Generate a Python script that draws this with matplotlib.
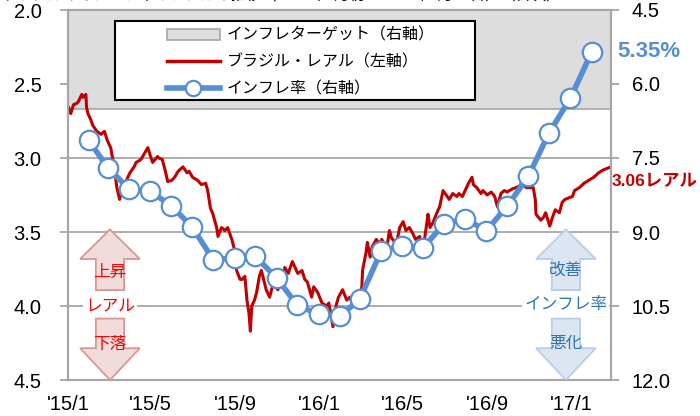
import matplotlib
matplotlib.use("Agg")
import matplotlib.pyplot as plt
from matplotlib.patches import Rectangle, FancyArrow, Patch
from matplotlib.lines import Line2D
from matplotlib.transforms import blended_transform_factory
import pandas as pd

plt.rcParams['font.family'] = ['Liberation Sans', 'Noto Sans CJK JP', 'DejaVu Sans']

# ブラジル・レアル（対米ドル、左軸、日次を目視で読み取り）
brl_dates = [
    '2015-01-02', '2015-01-05', '2015-01-09', '2015-01-14', '2015-01-16', '2015-01-21',
    '2015-01-23', '2015-01-27', '2015-01-28', '2015-01-30', '2015-02-03', '2015-02-06',
    '2015-02-12', '2015-02-18', '2015-02-23', '2015-02-27', '2015-03-04', '2015-03-09',
    '2015-03-13', '2015-03-16', '2015-03-17', '2015-03-20', '2015-03-23', '2015-03-27',
    '2015-04-01', '2015-04-07', '2015-04-10', '2015-04-17', '2015-04-22', '2015-04-27',
    '2015-05-01', '2015-05-04', '2015-05-11', '2015-05-13', '2015-05-18', '2015-05-22',
    '2015-05-26', '2015-06-01', '2015-06-05', '2015-06-10', '2015-06-17', '2015-06-23',
    '2015-06-26', '2015-07-01', '2015-07-08', '2015-07-14', '2015-07-20', '2015-07-23',
    '2015-07-27', '2015-07-30', '2015-08-05', '2015-08-07', '2015-08-12', '2015-08-17',
    '2015-08-21', '2015-08-27', '2015-08-31', '2015-09-03', '2015-09-08', '2015-09-11',
    '2015-09-15', '2015-09-18', '2015-09-21', '2015-09-23', '2015-09-25', '2015-09-29',
    '2015-10-02', '2015-10-06', '2015-10-09', '2015-10-16', '2015-10-21', '2015-10-26',
    '2015-11-02', '2015-11-09', '2015-11-12', '2015-11-17', '2015-11-23', '2015-11-27',
    '2015-12-01', '2015-12-07', '2015-12-11', '2015-12-15', '2015-12-21', '2015-12-24',
    '2015-12-30', '2016-01-05', '2016-01-12', '2016-01-15', '2016-01-21', '2016-01-26',
    '2016-01-29', '2016-02-04', '2016-02-10', '2016-02-15', '2016-02-19', '2016-02-26',
    '2016-03-03', '2016-03-04', '2016-03-09', '2016-03-11', '2016-03-15', '2016-03-18',
    '2016-03-24', '2016-03-29', '2016-04-01', '2016-04-08', '2016-04-12', '2016-04-15',
    '2016-04-22', '2016-04-27', '2016-05-02', '2016-05-06', '2016-05-11', '2016-05-16',
    '2016-05-20', '2016-05-26', '2016-05-30', '2016-06-02', '2016-06-06', '2016-06-07',
    '2016-06-10', '2016-06-14', '2016-06-20', '2016-06-24', '2016-06-29', '2016-07-05',
    '2016-07-08', '2016-07-13', '2016-07-19', '2016-07-22', '2016-07-27', '2016-08-02',
    '2016-08-05', '2016-08-10', '2016-08-12', '2016-08-17', '2016-08-23', '2016-08-26',
    '2016-09-01', '2016-09-07', '2016-09-12', '2016-09-16', '2016-09-21', '2016-09-26',
    '2016-09-30', '2016-10-07', '2016-10-13', '2016-10-18', '2016-10-21', '2016-10-28',
    '2016-11-07', '2016-11-10', '2016-11-11', '2016-11-18', '2016-11-22', '2016-11-25',
    '2016-12-01', '2016-12-05', '2016-12-09', '2016-12-15', '2016-12-19', '2016-12-23',
    '2017-01-03', '2017-01-06', '2017-01-13', '2017-01-20', '2017-01-27', '2017-02-03',
    '2017-02-10', '2017-02-17', '2017-02-28',
]
brl_values = [
    2.66, 2.70, 2.64, 2.63, 2.62, 2.57,
    2.59, 2.57, 2.66, 2.70, 2.74, 2.78,
    2.82, 2.84, 2.82, 2.88, 2.93, 3.06,
    3.20, 3.26, 3.28, 3.22, 3.20, 3.15,
    3.10, 3.06, 3.03, 3.01, 2.97, 2.93,
    2.99, 3.03, 2.99, 3.00, 3.01, 3.08,
    3.16, 3.15, 3.13, 3.09, 3.06, 3.10,
    3.09, 3.13, 3.15, 3.18, 3.17, 3.22,
    3.34, 3.37, 3.47, 3.53, 3.47, 3.49,
    3.47, 3.55, 3.62, 3.76, 3.82, 3.82,
    3.80, 3.96, 4.05, 4.17, 4.00, 3.96,
    3.91, 3.80, 3.76, 3.89, 3.94, 3.85,
    3.89, 3.82, 3.74, 3.78, 3.70, 3.74,
    3.78, 3.76, 3.82, 3.84, 3.94, 3.87,
    3.91, 3.98, 4.00, 3.98, 4.14, 3.99,
    3.94, 3.89, 3.96, 3.94, 4.00, 3.98,
    3.87, 3.76, 3.64, 3.57, 3.67, 3.60,
    3.55, 3.58, 3.55, 3.62, 3.49, 3.54,
    3.58, 3.47, 3.43, 3.49, 3.47, 3.51,
    3.55, 3.53, 3.60, 3.55, 3.42, 3.38,
    3.47, 3.44, 3.37, 3.33, 3.22, 3.26,
    3.28, 3.24, 3.26, 3.24, 3.26, 3.20,
    3.17, 3.13, 3.18, 3.20, 3.24, 3.22,
    3.25, 3.23, 3.26, 3.33, 3.24, 3.22,
    3.23, 3.21, 3.20, 3.19, 3.17, 3.20,
    3.20, 3.28, 3.38, 3.42, 3.40, 3.37,
    3.46, 3.40, 3.35, 3.37, 3.30, 3.28,
    3.26, 3.22, 3.20, 3.17, 3.15, 3.13,
    3.10, 3.08, 3.06,
]

# インフレ率（前年同月比、右軸、月次）
cpi_months = [
    '2015-01', '2015-02', '2015-03', '2015-04', '2015-05', '2015-06', '2015-07',
    '2015-08', '2015-09', '2015-10', '2015-11', '2015-12', '2016-01', '2016-02',
    '2016-03', '2016-04', '2016-05', '2016-06', '2016-07', '2016-08', '2016-09',
    '2016-10', '2016-11', '2016-12', '2017-01',
]
cpi_values = [
    7.14, 7.70, 8.13, 8.17, 8.47, 8.89, 9.56,
    9.53, 9.49, 9.93, 10.48, 10.67, 10.71, 10.36,
    9.39, 9.28, 9.32, 8.84, 8.74, 8.97, 8.48,
    7.87, 6.99, 6.29, 5.35,
]

# インフレターゲット（4.5%±2%）
target_low = 2.5
target_high = 6.5

xtick_dates = ['2015-01-01', '2015-05-01', '2015-09-01', '2016-01-01',
               '2016-05-01', '2016-09-01', '2017-01-01']
xtick_labels = ["'15/1", "'15/5", "'15/9", "'16/1", "'16/5", "'16/9", "'17/1"]
left_ticks = [2.0, 2.5, 3.0, 3.5, 4.0, 4.5]
right_ticks = [4.5, 6.0, 7.5, 9.0, 10.5, 12.0]

RED = '#c00000'
BLUE = '#558ed5'
GRAY = '#a6a6a6'

brl_x = pd.to_datetime(brl_dates)
cpi_x = pd.to_datetime(cpi_months) + pd.offsets.MonthEnd(0)

fig = plt.figure(figsize=(7, 4.16), dpi=100)
ax = fig.add_axes([68 / 700, 1 - 380 / 416, 543 / 700, 370 / 416])
ax2 = ax.twinx()

ax.set_xlim(pd.Timestamp('2015-01-01'), pd.Timestamp('2017-02-28'))
ax.set_ylim(left_ticks[-1], left_ticks[0])
ax2.set_ylim(right_ticks[-1], right_ticks[0])

# インフレターゲット帯（右軸の値で描くが、レアルの線より下に置く）
band_tr = blended_transform_factory(ax.transAxes, ax2.transData)
band = Rectangle((0, target_low), 1, target_high - target_low, transform=band_tr,
                 facecolor='#dddddd', edgecolor=GRAY, lw=1.2, zorder=1)
ax.add_patch(band)

ax.plot(brl_x, brl_values, color=RED, lw=2.2, zorder=3)
ax2.plot(cpi_x, cpi_values, color=BLUE, lw=4, marker='o', ms=14,
         mfc='white', mec=BLUE, mew=1.6, zorder=3)

# 軸・目盛り
ax.set_axisbelow(True)
ax.yaxis.grid(True, color=GRAY, lw=1.3)
ax.set_yticks(left_ticks)
ax.set_yticklabels([f'{v:.1f}' for v in left_ticks])
ax2.set_yticks(right_ticks)
ax2.set_yticklabels([f'{v:.1f}' for v in right_ticks])
ax.set_xticks(pd.to_datetime(xtick_dates))
ax.set_xticklabels(xtick_labels)
ax.tick_params(axis='x', length=0, pad=11, labelsize=14.5)
ax.tick_params(axis='y', length=6, width=1.3, color=GRAY, pad=13, labelsize=14.5)
ax2.tick_params(axis='y', length=6, width=1.3, color=GRAY, pad=9, labelsize=14.5)
for a in (ax, ax2):
    for s in a.spines.values():
        s.set_color(GRAY)
        s.set_linewidth(1.5)

# 凡例（枠は手描き）
frame = Rectangle((0.0866, 0.757), 0.663, 0.213, transform=ax.transAxes,
                  facecolor='white', edgecolor='black', lw=1.5, zorder=5)
ax2.add_patch(frame)
handles = [
    Patch(facecolor='#dddddd', edgecolor=GRAY, lw=1.2),
    Line2D([], [], color=RED, lw=2.5),
    Line2D([], [], color=BLUE, lw=4, marker='o', ms=11, mfc='white', mec=BLUE, mew=1.6),
]
labels = ['インフレターゲット（右軸）', 'ブラジル・レアル（左軸）', 'インフレ率（右軸）']
leg = ax2.legend(handles, labels, loc='upper left', bbox_to_anchor=(0.182, 0.952),
                 frameon=False, fontsize=11.5, handlelength=3.3, handleheight=0.7,
                 handletextpad=0.45, labelspacing=0.72, borderpad=0, borderaxespad=0)
leg.set_zorder(6)

# 最新値ラベル
ax2.annotate(f'{cpi_values[-1]:.2f}%', xy=(cpi_x[-1], cpi_values[-1]),
             xytext=(26, 0), textcoords='offset pixels', ha='left', va='center',
             color=BLUE, fontsize=16, fontweight='bold', annotation_clip=False)
ax.annotate(f'{brl_values[-1]:.2f}レアル', xy=(brl_x[-1], brl_values[-1]),
            xytext=(1, -15), textcoords='offset pixels', ha='left', va='center',
            color=RED, fontsize=12.5, fontweight='bold', annotation_clip=False)

# 矢印（レアル上昇・下落、インフレ率改善・悪化）
def arrow_pair(x, face, edge):
    up = FancyArrow(x, 0.243, 0, 0.164, width=0.052, head_width=0.11, head_length=0.08,
                    length_includes_head=True, transform=ax2.transAxes,
                    facecolor=face, edgecolor=edge, lw=1.3, zorder=4)
    down = FancyArrow(x, 0.166, 0, -0.166, width=0.052, head_width=0.11, head_length=0.086,
                      length_includes_head=True, transform=ax2.transAxes,
                      facecolor=face, edgecolor=edge, lw=1.3, zorder=4)
    ax2.add_patch(up)
    ax2.add_patch(down)

arrow_pair(0.0773, '#f2dcdb', '#d99694')
arrow_pair(0.917, '#dce6f2', '#b9cde5')

kw = dict(transform=ax2.transAxes, ha='center', va='center', zorder=7)
ax2.text(0.0773, 0.292, '上昇', color='#ff0000', fontsize=12, **kw)
ax2.text(0.0773, 0.200, 'レアル', color='#ff0000', fontsize=12,
         bbox=dict(facecolor='white', edgecolor='none', pad=1.5), **kw)
ax2.text(0.0773, 0.095, '下落', color='#ff0000', fontsize=12, **kw)
ax2.text(0.917, 0.297, '改善', color='#2e75b6', fontsize=12, **kw)
ax2.text(0.917, 0.203, 'インフレ率', color='#2e75b6', fontsize=12,
         bbox=dict(facecolor='white', edgecolor='none', pad=1.5), **kw)
ax2.text(0.917, 0.100, '悪化', color='#2e75b6', fontsize=12, **kw)

# 上端で切れているタイトル
fig.text(0.003, 1 + 5 / 416, 'ブラジルのインフレ率とレアルの推移（2015年1月初～2017年2月28日）（日次）',
         ha='left', va='center', fontsize=11)

fig.savefig('out.png', dpi=100)
